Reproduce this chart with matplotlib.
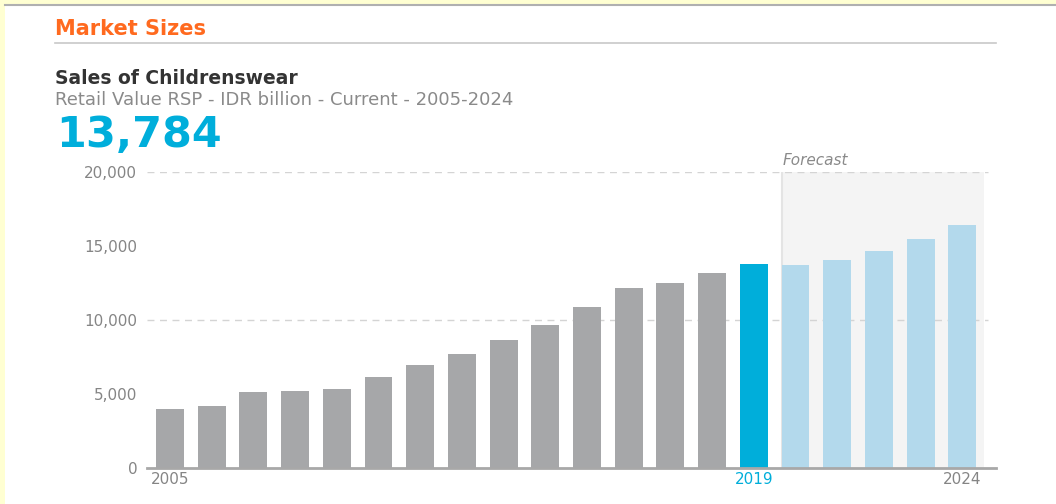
import matplotlib
matplotlib.use("Agg")
import matplotlib.pyplot as plt
from matplotlib.patches import Rectangle
from matplotlib.lines import Line2D

# ---- data ----
years = list(range(2005, 2025))
values = [3990, 4170, 5140, 5230, 5370, 6150, 6990, 7710, 8630, 9650,
          10860, 12150, 12480, 13160, 13784, 13700, 14040, 14630, 15500, 16450]
highlight_year = 2019
forecast_start = 2020
shown_xlabels = [2005, 2019, 2024]
yticks = [0, 5000, 10000, 15000, 20000]
ytick_labels = ["0", "5,000", "10,000", "15,000", "20,000"]
grid_values = [10000, 20000]

title = "Market Sizes"
chart_title = "Sales of Childrenswear"
subtitle = "Retail Value RSP - IDR billion - Current - 2005-2024"
headline = "13,784"

W, H = 1056, 504
fig = plt.figure(figsize=(W / 100, H / 100), dpi=100)
fig.patch.set_facecolor("#FFFFD2")

def fx(x):
    return x / W

def fy(y):
    return 1 - y / H

# white panel
fig.add_artist(Rectangle((fx(5), 0), 1 - fx(5), fy(5), transform=fig.transFigure,
                         facecolor="white", edgecolor="none", zorder=0))
fig.add_artist(Line2D([fx(5), 1], [fy(5), fy(5)], transform=fig.transFigure,
                      color="#B0B0B0", lw=1.5))

# header texts
fig.text(fx(55), fy(29), title, color="#FF6A1F", fontsize=15, fontweight="bold",
         va="center", ha="left")
fig.add_artist(Line2D([fx(55), fx(996)], [fy(43), fy(43)], transform=fig.transFigure,
                      color="#C8C8C8", lw=1.2))
fig.text(fx(55), fy(78), chart_title, color="#333333", fontsize=13.5, fontweight="bold",
         va="center", ha="left")
fig.text(fx(55), fy(100), subtitle, color="#8A8A8A", fontsize=13,
         va="center", ha="left")
fig.text(fx(56), fy(135), headline, color="#00AEDB", fontsize=31, fontweight="bold",
         va="center", ha="left")

# axes
ax_left, ax_right, ax_top, ax_bottom = 147, 996, 172, 468
ax = fig.add_axes([fx(ax_left), fy(ax_bottom), fx(ax_right - ax_left), (ax_bottom - ax_top) / H])
ax.set_facecolor("none")

n = len(years)
xs = list(range(n))
pitch = 41.7
x0 = -(170 - ax_left) / pitch
x1 = x0 + (ax_right - ax_left) / pitch
ax.set_xlim(x0, x1)
ax.set_ylim(0, 20000)

colors = []
for y in years:
    if y == highlight_year:
        colors.append("#00AEDA")
    elif y >= forecast_start:
        colors.append("#B3D9EC")
    else:
        colors.append("#A6A7A9")

# forecast shading
fi = years.index(forecast_start)
shade_left = fi - 0.32
shade_right = (n - 1) + 0.52
ax.add_patch(Rectangle((shade_left, 0), shade_right - shade_left, 20000,
                       facecolor="#F4F4F4", edgecolor="none", zorder=0))
ax.plot([shade_left, shade_left], [0, 20000], color="#E4E4E4", lw=1.5, zorder=0.5)
ax.text(shade_left, 20000 + 250, "Forecast", color="#8A8A8A", fontsize=11,
        style="italic", ha="left", va="bottom")

for g in grid_values:
    ax.axhline(g, xmax=0.99, color="#D4D4D4", lw=1, ls=(0, (5, 4)), zorder=0.6)

ax.bar(xs, values, width=0.67, color=colors, edgecolor="none", zorder=2)

for s in ["top", "right", "left"]:
    ax.spines[s].set_visible(False)
ax.spines["bottom"].set_color("#A8A8A8")
ax.spines["bottom"].set_linewidth(2)

ax.set_yticks(yticks)
ax.set_yticklabels(ytick_labels)
ax.tick_params(axis="y", length=0, pad=7, labelsize=11, labelcolor="#858585")

ax.set_xticks([years.index(y) for y in shown_xlabels])
ax.set_xticklabels([str(y) for y in shown_xlabels])
ax.tick_params(axis="x", length=0, pad=3, labelsize=11)
for lbl, y in zip(ax.get_xticklabels(), shown_xlabels):
    lbl.set_color("#00AEDA" if y == highlight_year else "#858585")

fig.savefig("out.png", dpi=100, facecolor=fig.get_facecolor())
